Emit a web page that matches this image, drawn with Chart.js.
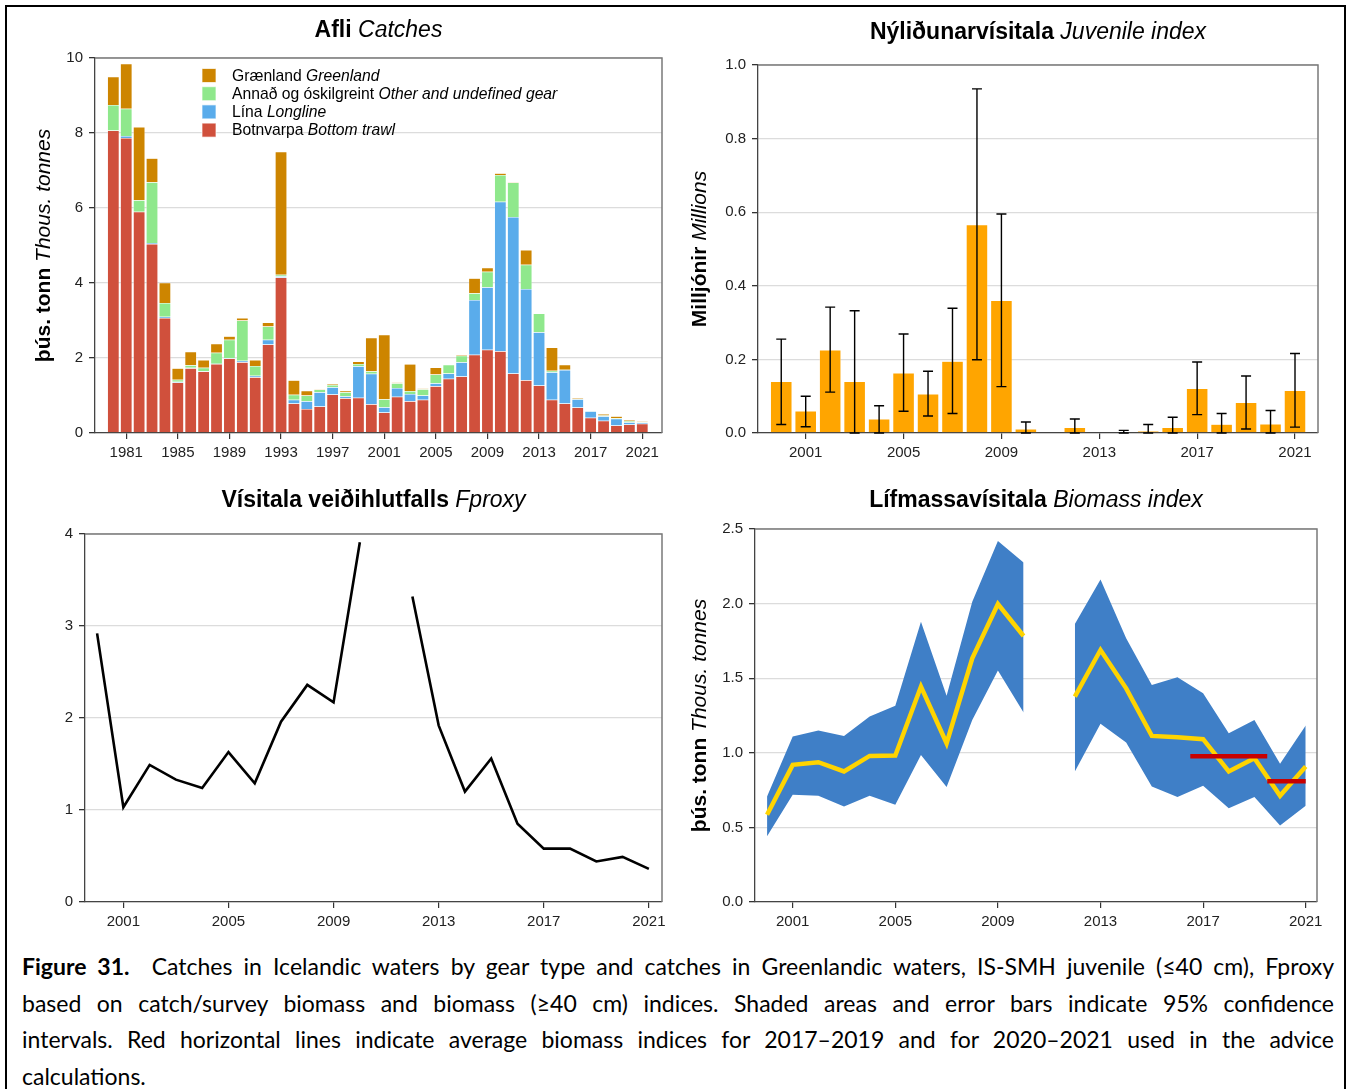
<!DOCTYPE html>
<html>
<head>
<meta charset="utf-8">
<title>Grálúða – afli og vísitölur</title>
<script src="https://cdn.jsdelivr.net/npm/chart.js@4.4.0/dist/chart.umd.min.js"></script>
<style>
    body {
        margin: 0;
        background: #fff;
    }
    #page {
        position: relative;
        width: 1351px;
        height: 1089px;
        overflow: hidden;
        background: #fff;
    }
    .frame {
        position: absolute;
        left: 5px;
        top: 5px;
        width: 1337px;
        height: 1200px;
        border: 2px solid #000;
    }
    canvas {
        position: absolute;
    }
    #caption {
        position: absolute;
        left: 22px;
        top: 948px;
        width: 1312px;
        font-family: Lato, "Open Sans", sans-serif;
        font-size: 23px;
        line-height: 36.5px;
        color: #000;
    }
    #caption div {
        text-align: justify;
        text-align-last: justify;
    }
    #caption div.last {
        text-align-last: left;
    }
</style>
</head>
<body>
<div id="page">
    <div class="frame"></div>
    <canvas id="catches" width="675" height="470" style="left:0;top:0"></canvas>
    <canvas id="juvenile" width="676" height="470" style="left:675px;top:0"></canvas>
    <canvas id="fproxy" width="675" height="470" style="left:0;top:470px"></canvas>
    <canvas id="biomass" width="676" height="470" style="left:675px;top:470px"></canvas>
    <div id="caption">
        <div><b>Figure 31.</b>&nbsp; Catches in Icelandic waters by gear type and catches in Greenlandic waters, IS-SMH juvenile (≤40 cm), Fproxy</div>
        <div>based on catch/survey biomass and biomass (≥40 cm) indices. Shaded areas and error bars indicate 95% confidence</div>
        <div>intervals. Red horizontal lines indicate average biomass indices for 2017–2019 and for 2020–2021 used in the advice</div>
        <div class="last">calculations.</div>
    </div>
</div>

<script>
    // ---- Afli: catches by gear (thous. tonnes), 1980-2021 ----
    const catchYears = [];
    for (let y = 1980; y <= 2021; y++) catchYears.push(y);
    const bottomTrawl = [8.07, 7.87, 5.90, 5.04, 3.07, 1.35, 1.73, 1.64, 1.84, 1.99,
                         1.89, 1.49, 2.36, 4.15, 0.79, 0.64, 0.71, 1.03, 0.93, 0.94,
                         0.77, 0.55, 0.97, 0.85, 0.89, 1.25, 1.45, 1.51, 2.09, 2.22,
                         2.18, 1.59, 1.41, 1.27, 0.89, 0.79, 0.68, 0.41, 0.33, 0.20, 0.23, 0.25];
    const longline = [0.00, 0.05, 0.00, 0.03, 0.03, 0.02, 0.01, 0.01, 0.01, 0.01,
                      0.04, 0.04, 0.13, 0.03, 0.10, 0.21, 0.38, 0.19, 0.05, 0.84,
                      0.81, 0.14, 0.23, 0.19, 0.11, 0.08, 0.14, 0.38, 1.46, 1.67,
                      3.99, 4.17, 2.43, 1.42, 0.73, 0.89, 0.22, 0.17, 0.12, 0.18, 0.06, 0.03];
    const otherGear = [0.68, 0.73, 0.31, 1.62, 0.37, 0.05, 0.07, 0.09, 0.29, 0.49,
                       1.07, 0.26, 0.35, 0.04, 0.13, 0.15, 0.07, 0.06, 0.11, 0.06,
                       0.07, 0.21, 0.13, 0.08, 0.17, 0.23, 0.23, 0.17, 0.18, 0.41,
                       0.71, 0.92, 0.65, 0.50, 0.04, 0.01, 0.01, 0.02, 0.02, 0.02, 0.03, 0.02];
    const greenland = [0.75, 1.20, 1.95, 0.64, 0.54, 0.31, 0.36, 0.21, 0.24, 0.09,
                       0.07, 0.16, 0.11, 3.28, 0.39, 0.13, 0.02, 0.03, 0.04, 0.07,
                       0.89, 1.72, 0.02, 0.72, 0.02, 0.19, 0.00, 0.03, 0.40, 0.11,
                       0.05, 0.02, 0.39, 0.00, 0.62, 0.13, 0.02, 0.00, 0.04, 0.05, 0.03, 0.02];
    const catchTicks = [1981, 1985, 1989, 1993, 1997, 2001, 2005, 2009, 2013, 2017, 2021];

    // ---- Nýliðunarvísitala: juvenile index (millions) with 95% CI; no survey in 2011 ----
    const juvYears = [2000, 2001, 2002, 2003, 2004, 2005, 2006, 2007, 2008, 2009, 2010,
                      2012, 2013, 2014, 2015, 2016, 2017, 2018, 2019, 2020, 2021];
    const juvIndex = [0.140, 0.060, 0.226, 0.140, 0.038, 0.163, 0.106, 0.195, 0.566, 0.360, 0.011,
                      0.015, 0.000, 0.002, 0.006, 0.015, 0.121, 0.024, 0.083, 0.025, 0.116];
    const juvLow = [0.023, 0.017, 0.111, 0.000, 0.000, 0.059, 0.046, 0.053, 0.199, 0.126, 0.000,
                    0.000, 0.000, 0.000, 0.000, 0.000, 0.050, 0.000, 0.011, 0.000, 0.016];
    const juvHigh = [0.255, 0.100, 0.342, 0.332, 0.074, 0.269, 0.168, 0.339, 0.935, 0.595, 0.030,
                     0.038, 0.000, 0.007, 0.023, 0.043, 0.193, 0.053, 0.155, 0.061, 0.216];

    // ---- Fproxy and biomass index, 2000-2021 (2011 missing) ----
    const surveyYears = [2000, 2001, 2002, 2003, 2004, 2005, 2006, 2007, 2008, 2009, 2010,
                         2011, 2012, 2013, 2014, 2015, 2016, 2017, 2018, 2019, 2020, 2021];
    const fproxy = [2.92, 1.03, 1.49, 1.33, 1.24, 1.63, 1.29, 1.96, 2.36, 2.17, 3.91,
                    null, 3.32, 1.92, 1.20, 1.56, 0.85, 0.58, 0.58, 0.44, 0.49, 0.36];
    const biomass = [0.585, 0.919, 0.937, 0.875, 0.979, 0.982, 1.444, 1.064, 1.633, 1.997, 1.783,
                     null, 1.377, 1.689, 1.432, 1.113, 1.104, 1.091, 0.875, 0.964, 0.712, 0.908];
    const bioUpper = [0.707, 1.109, 1.149, 1.113, 1.243, 1.316, 1.879, 1.383, 2.012, 2.420, 2.276,
                      null, 1.863, 2.162, 1.767, 1.455, 1.506, 1.399, 1.131, 1.220, 0.926, 1.183];
    const bioLower = [0.440, 0.718, 0.712, 0.640, 0.712, 0.651, 0.986, 0.770, 1.220, 1.551, 1.270,
                      null, 0.875, 1.194, 1.069, 0.774, 0.703, 0.779, 0.629, 0.703, 0.513, 0.645];
    const adviceYears = [[2017, 2019], [2020, 2021]];
    const surveyTicks = [2001, 2005, 2009, 2013, 2017, 2021];

    Chart.defaults.font.family = '"Liberation Sans", Arial, sans-serif';
    Chart.defaults.animation = false;

    const FONT = '"Liberation Sans", Arial, sans-serif';

    // draw a run of text pieces with different styles (bold / italic) side by side
    function drawRich(ctx, parts, x, y, size, align) {
        const fonts = parts.map(p => `${p[1]} ${size}px ${FONT}`);
        const widths = parts.map((p, i) => { ctx.font = fonts[i]; return ctx.measureText(p[0]).width; });
        const total = widths.reduce((a, b) => a + b, 0);
        let cx = align === 'center' ? x - total / 2 : x;
        ctx.textAlign = 'left';
        ctx.textBaseline = 'middle';
        ctx.fillStyle = '#000';
        parts.forEach((p, i) => {
            ctx.font = fonts[i];
            ctx.fillText(p[0], cx, y);
            cx += widths[i];
        });
    }

    // panel title, rotated y title, box frame and optional legend
    const panelText = {
        id: 'panelText',
        afterDraw(chart, args, opts) {
            const ctx = chart.ctx;
            const a = chart.chartArea;
            ctx.save();
            // top and right edges of the panel box
            ctx.strokeStyle = '#7a7a7a';
            ctx.lineWidth = 1.5;
            ctx.beginPath();
            ctx.moveTo(a.left, a.top);
            ctx.lineTo(a.right, a.top);
            ctx.lineTo(a.right, a.bottom);
            ctx.stroke();

            if (opts.title) drawRich(ctx, opts.title, (a.left + a.right) / 2, opts.titleY, 23, 'center');
            if (opts.yTitle) {
                ctx.save();
                ctx.translate(opts.yTitleX, (a.top + a.bottom) / 2);
                ctx.rotate(-Math.PI / 2);
                drawRich(ctx, opts.yTitle, 0, 0, 21, 'center');
                ctx.restore();
            }
            if (opts.legend) {
                const ds = chart.data.datasets.slice().reverse();
                ds.forEach((d, i) => {
                    const y = opts.legend.y + i * 18.2;
                    ctx.fillStyle = d.backgroundColor;
                    ctx.fillRect(opts.legend.x, y - 7, 14, 14);
                    ctx.strokeStyle = 'rgba(255,255,255,0.7)';
                    ctx.lineWidth = 1;
                    ctx.strokeRect(opts.legend.x, y - 7, 14, 14);
                    drawRich(ctx, d.labelParts, opts.legend.x + 30, y + 1, 15.7, 'left');
                });
            }
            ctx.restore();
        }
    };

    // 95% confidence interval whiskers on the juvenile bars
    const errorBars = {
        id: 'errorBars',
        afterDatasetsDraw(chart) {
            const ctx = chart.ctx;
            const xs = chart.scales.x, ys = chart.scales.y;
            ctx.save();
            ctx.strokeStyle = '#000';
            ctx.lineWidth = 1.4;
            juvYears.forEach((yr, i) => {
                if (juvHigh[i] <= juvLow[i]) return;
                const x = xs.getPixelForValue(yr);
                const y1 = ys.getPixelForValue(juvLow[i]);
                const y2 = ys.getPixelForValue(juvHigh[i]);
                ctx.beginPath();
                ctx.moveTo(x, y1); ctx.lineTo(x, y2);
                ctx.moveTo(x - 5, y1); ctx.lineTo(x + 5, y1);
                ctx.moveTo(x - 5, y2); ctx.lineTo(x + 5, y2);
                ctx.stroke();
            });
            ctx.restore();
        }
    };

    function xAxis(min, max, tickValues) {
        return {
            type: 'linear',
            min: min,
            max: max,
            offset: false,
            stacked: true,
            afterBuildTicks: s => { s.ticks = tickValues.map(v => ({ value: v })); },
            afterFit: s => { s.height = 30; },
            grid: { offset: false, drawOnChartArea: false, tickLength: 6, tickColor: '#333', lineWidth: 1.2 },
            border: { color: '#444', width: 1.3 },
            ticks: { color: '#222', font: { size: 15 }, padding: 5, maxRotation: 0, autoSkip: false,
                     callback: v => String(v) }
        };
    }

    function yAxis(max, step, digits) {
        return {
            min: 0,
            max: max,
            stacked: true,
            afterFit: s => { s.width = 40; },
            grid: { color: '#dcdcdc', lineWidth: 1.3, tickLength: 6, tickColor: '#333' },
            border: { color: '#444', width: 1.3 },
            ticks: { stepSize: step, color: '#222', font: { size: 15 }, padding: 6,
                     callback: v => v.toFixed(digits) }
        };
    }

    function pts(xs, ys) {
        return xs.map((x, i) => ({ x: x, y: ys[i] }));
    }

    // split a series into runs without missing values
    function runs(xs, ys) {
        const out = [];
        let cur = [];
        xs.forEach((x, i) => {
            if (ys[i] === null) { if (cur.length) out.push(cur); cur = []; }
            else cur.push({ x: x, y: ys[i] });
        });
        if (cur.length) out.push(cur);
        return out;
    }

    function mean(arr) {
        return arr.reduce((a, b) => a + b, 0) / arr.length;
    }

    // ---- Afli Catches ----
    new Chart(document.getElementById('catches'), {
        type: 'bar',
        data: {
            datasets: [
                { labelParts: [['Botnvarpa ', 'normal'], ['Bottom trawl', 'italic']],
                  data: pts(catchYears, bottomTrawl), backgroundColor: '#d0503c' },
                { labelParts: [['Lína ', 'normal'], ['Longline', 'italic']],
                  data: pts(catchYears, longline), backgroundColor: '#5aaceb' },
                { labelParts: [['Annað og óskilgreint ', 'normal'], ['Other and undefined gear', 'italic']],
                  data: pts(catchYears, otherGear), backgroundColor: '#8fe88c' },
                { labelParts: [['Grænland ', 'normal'], ['Greenland', 'italic']],
                  data: pts(catchYears, greenland), backgroundColor: '#cd8500' }
            ].map(d => Object.assign(d, {
                barPercentage: 0.93, categoryPercentage: 1.0,
                borderColor: 'rgba(255,255,255,0.55)', borderWidth: 0.6
            }))
        },
        options: {
            responsive: false,
            layout: { padding: { left: 55, top: 58, right: 13, bottom: 7 } },
            scales: { x: xAxis(1978.58, 2022.53, catchTicks), y: yAxis(10, 2, 0) },
            plugins: {
                legend: { display: false },
                tooltip: { enabled: false },
                panelText: {
                    title: [['Afli ', 'bold'], ['Catches', 'italic']], titleY: 31,
                    yTitle: [['þús. tonn ', 'bold'], ['Thous. tonnes', 'italic']], yTitleX: 44,
                    legend: { x: 202, y: 75.5 }
                }
            }
        },
        plugins: [panelText]
    });

    // ---- Nýliðunarvísitala Juvenile index ----
    new Chart(document.getElementById('juvenile'), {
        type: 'bar',
        data: {
            datasets: [{
                data: pts(juvYears, juvIndex),
                backgroundColor: '#ffa500',
                borderColor: 'rgba(255,255,255,0.6)',
                borderWidth: 0.6,
                barPercentage: 0.89,
                categoryPercentage: 1.0
            }]
        },
        options: {
            responsive: false,
            layout: { padding: { left: 43, top: 65, right: 33, bottom: 7 } },
            scales: { x: xAxis(1999.05, 2021.94, surveyTicks), y: yAxis(1.0, 0.2, 1) },
            plugins: {
                legend: { display: false },
                tooltip: { enabled: false },
                panelText: {
                    title: [['Nýliðunarvísitala ', 'bold'], ['Juvenile index', 'italic']], titleY: 33,
                    yTitle: [['Milljónir ', 'bold'], ['Millions', 'italic']], yTitleX: 25
                }
            }
        },
        plugins: [panelText, errorBars]
    });

    // ---- Vísitala veiðihlutfalls Fproxy ----
    new Chart(document.getElementById('fproxy'), {
        type: 'line',
        data: {
            datasets: [{
                data: pts(surveyYears, fproxy),
                borderColor: '#000',
                borderWidth: 2.6,
                pointRadius: 0,
                spanGaps: false,
                tension: 0
            }]
        },
        options: {
            responsive: false,
            layout: { padding: { left: 45, top: 64, right: 13, bottom: 8 } },
            scales: { x: xAxis(1999.54, 2021.5, surveyTicks), y: yAxis(4, 1, 0) },
            plugins: {
                legend: { display: false },
                tooltip: { enabled: false },
                panelText: {
                    title: [['Vísitala veiðihlutfalls ', 'bold'], ['Fproxy', 'italic']], titleY: 31
                }
            }
        },
        plugins: [panelText]
    });

    // ---- Lífmassavísitala Biomass index ----
    const bioSets = [];
    const lowRuns = runs(surveyYears, bioLower);
    const upRuns = runs(surveyYears, bioUpper);
    lowRuns.forEach((r, k) => {
        bioSets.push({ data: r, borderWidth: 0, pointRadius: 0, fill: false, order: 4 });
        bioSets.push({ data: upRuns[k], borderWidth: 0, pointRadius: 0,
                       fill: '-1', backgroundColor: '#3f7fc7', order: 3 });
    });
    bioSets.push({ data: pts(surveyYears, biomass), borderColor: '#ffd400', borderWidth: 4.5,
                   pointRadius: 0, spanGaps: false, order: 1 });
    const lastYear = surveyYears[surveyYears.length - 1];
    adviceYears.forEach(([a, b]) => {
        const vals = surveyYears.map((y, i) => (y >= a && y <= b ? biomass[i] : null)).filter(v => v !== null);
        const avg = mean(vals);
        bioSets.push({ data: [{ x: a - 0.5, y: avg }, { x: Math.min(b + 0.5, lastYear), y: avg }],
                       borderColor: '#c80000', borderWidth: 4.5, pointRadius: 0, order: 0 });
    });

    new Chart(document.getElementById('biomass'), {
        type: 'line',
        data: { datasets: bioSets },
        options: {
            responsive: false,
            layout: { padding: { left: 40, top: 59, right: 34, bottom: 8 } },
            scales: { x: xAxis(1999.53, 2021.44, surveyTicks), y: Object.assign(yAxis(2.5, 0.5, 1), { stacked: false }) },
            plugins: {
                legend: { display: false },
                tooltip: { enabled: false },
                filler: { propagate: false },
                panelText: {
                    title: [['Lífmassavísitala ', 'bold'], ['Biomass index', 'italic']], titleY: 31,
                    yTitle: [['þús. tonn ', 'bold'], ['Thous. tonnes', 'italic']], yTitleX: 25
                }
            }
        },
        plugins: [panelText]
    });
</script>
</body>
</html>
